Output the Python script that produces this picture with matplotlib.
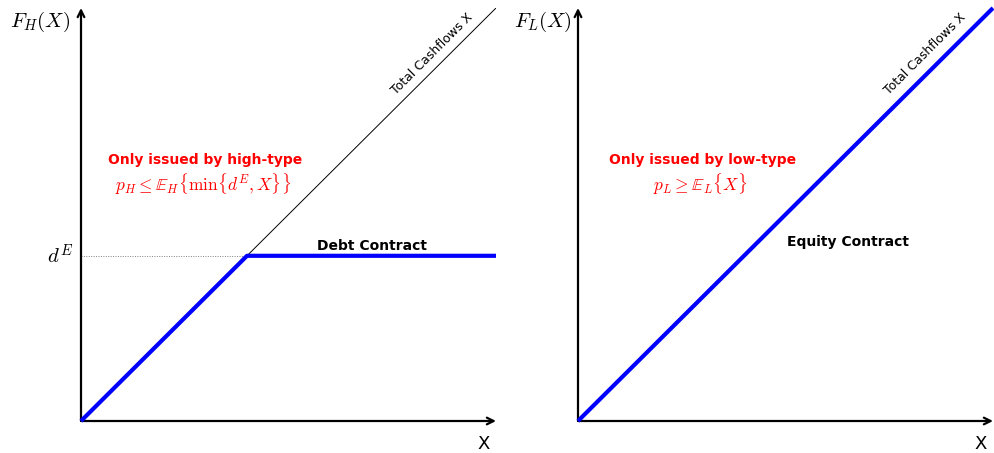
import numpy as np
import matplotlib.pyplot as plt

plt.rcParams['mathtext.fontset'] = 'cm'

# payoff data (same units on both axes)
x_total = [0, 10]
y_total = [0, 10]
d_E = 4
debt_x = [0, d_E, 10]
debt_y = [0, d_E, d_E]
equity_x = [0, 10]
equity_y = [0, 10]

W, H = 994, 453
fig = plt.figure(figsize=(W / 100, H / 100), dpi=100)


def px_axes(x0, y0, x1, y1):
    # axes rectangle from pixel corners (top-left origin)
    return fig.add_axes([x0 / W, 1 - y1 / H, (x1 - x0) / W, (y1 - y0) / H])


def draw_frame(ax):
    ax.set_xlim(0, 10)
    ax.set_ylim(0, 10)
    ax.axis('off')
    arr = dict(arrowstyle='->', color='black', lw=1.6, shrinkA=0, shrinkB=0,
               mutation_scale=12)
    ax.annotate('', xy=(10.0, 0), xytext=(0, 0), arrowprops=arr, annotation_clip=False)
    ax.annotate('', xy=(0, 10.0), xytext=(0, 0), arrowprops=arr, annotation_clip=False)


# left panel: debt contract
ax1 = px_axes(81, 8, 496, 421)
draw_frame(ax1)
ax1.plot(x_total, y_total, color='black', lw=0.7)
ax1.plot(debt_x, debt_y, color='blue', lw=3, solid_capstyle='butt', zorder=3, clip_on=False)
ax1.plot([0, d_E], [d_E, d_E], color='gray', lw=0.7, ls=(0, (1, 1.5)))
ax1.text(-0.98, 9.67, r'$F_H(X)$', fontsize=15, ha='center', va='center')
ax1.text(-0.5, d_E, r'$d^E$', fontsize=15, ha='center', va='center')
ax1.text(9.7, -0.55, 'X', fontsize=13, ha='center', va='center')
ax1.text(3.0, 6.31, 'Only issued by high-type', color='red', fontsize=10,
         fontweight='bold', ha='center', va='center')
ax1.text(2.95, 5.73, r'$p_H \leq \mathbb{E}_H\{\min\{d^E, X\}\}$', color='red',
         fontsize=12.5, ha='center', va='center')
ax1.text(7.0, 4.24, 'Debt Contract', color='black', fontsize=10,
         fontweight='bold', ha='center', va='center')
ax1.text(8.45, 8.9, 'Total Cashflows X', fontsize=9, rotation=45,
         ha='center', va='center')

# right panel: equity contract
ax2 = px_axes(578, 8, 993, 421)
draw_frame(ax2)
ax2.plot(equity_x, equity_y, color='blue', lw=3, solid_capstyle='butt', zorder=3, clip_on=False)
ax2.text(-0.85, 9.67, r'$F_L(X)$', fontsize=15, ha='center', va='center')
ax2.text(9.7, -0.55, 'X', fontsize=13, ha='center', va='center')
ax2.text(3.0, 6.31, 'Only issued by low-type', color='red', fontsize=10,
         fontweight='bold', ha='center', va='center')
ax2.text(2.95, 5.73, r'$p_L \geq \mathbb{E}_L\{X\}$', color='red',
         fontsize=12.5, ha='center', va='center')
ax2.text(6.5, 4.34, 'Equity Contract', color='black', fontsize=10,
         fontweight='bold', ha='center', va='center')
ax2.text(8.37, 8.9, 'Total Cashflows X', fontsize=9, rotation=45,
         ha='center', va='center')

fig.savefig('out.png', dpi=100)
